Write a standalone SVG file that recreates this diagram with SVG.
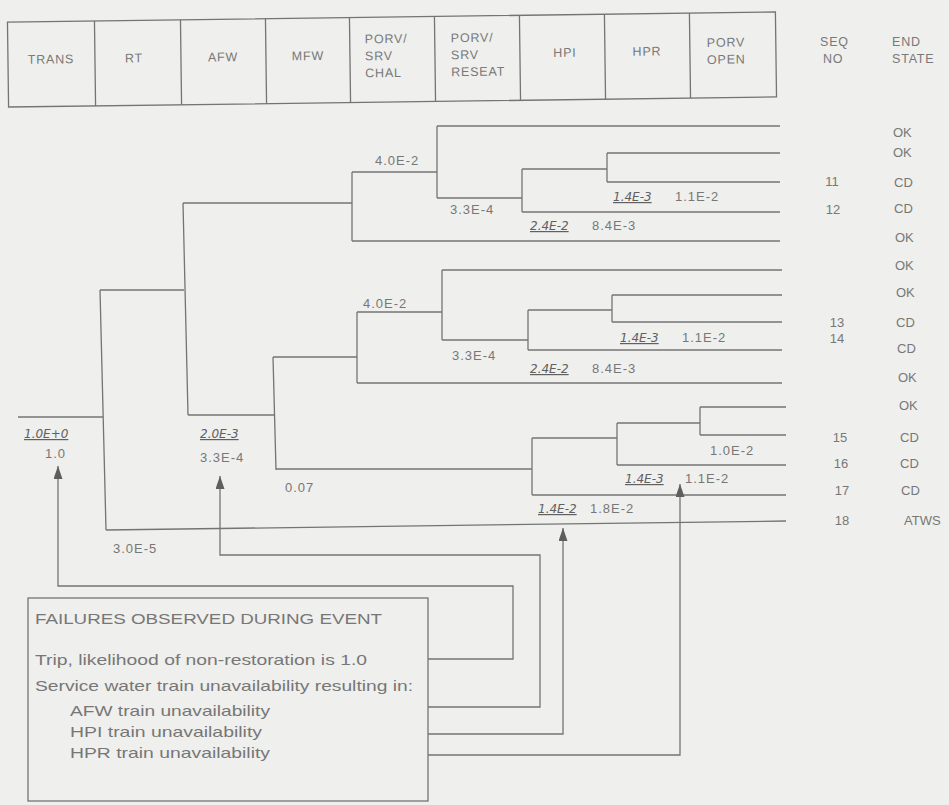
<svg xmlns="http://www.w3.org/2000/svg" width="949" height="805" viewBox="0 0 949 805">
<style>
.ln{fill:none;stroke:#747474;stroke-width:1.3}
.hd{font-family:"Liberation Sans",Arial,sans-serif;font-size:12.5px;fill:#787878;letter-spacing:0.8px}
.lb{font-family:"Liberation Sans",Arial,sans-serif;font-size:13px;fill:#777;letter-spacing:1px}
.hw{font-family:"DejaVu Sans",sans-serif;font-size:12px;font-style:italic;fill:#606060;text-decoration:underline}
.es{font-family:"Liberation Sans",Arial,sans-serif;font-size:13px;fill:#777}
.bx{font-family:"Liberation Sans",Arial,sans-serif;font-size:14.5px;fill:#777}
</style>
<defs>
<marker id="ah" markerUnits="userSpaceOnUse" markerWidth="13" markerHeight="9" viewBox="0 0 13 9" refX="13" refY="4.5" orient="auto">
<path d="M0,0 L13,4.5 L0,9 z" fill="#5e5e5e"/>
</marker>
</defs>
<rect width="949" height="805" fill="#efefed"/>

<g id="header" transform="rotate(-0.75 392 60)">
<rect class="ln" x="8" y="17" width="768" height="85"/>
<path class="ln" d="M95,17V102M181,17V102M266,17V102M350,17V102M435,17V102M520,17V102M605,17V102M690,17V102"/>
<text class="hd" x="51" y="59" text-anchor="middle">TRANS</text>
<text class="hd" x="134" y="59" text-anchor="middle">RT</text>
<text class="hd" x="223" y="59" text-anchor="middle">AFW</text>
<text class="hd" x="308" y="59" text-anchor="middle">MFW</text>
<text class="hd" x="365" y="43">PORV/</text>
<text class="hd" x="365" y="60">SRV</text>
<text class="hd" x="365" y="77">CHAL</text>
<text class="hd" x="451" y="43">PORV/</text>
<text class="hd" x="451" y="60">SRV</text>
<text class="hd" x="451" y="77">RESEAT</text>
<text class="hd" x="565" y="59" text-anchor="middle">HPI</text>
<text class="hd" x="647" y="59" text-anchor="middle">HPR</text>
<text class="hd" x="707" y="51">PORV</text>
<text class="hd" x="707" y="68">OPEN</text>
</g>
<g id="col-heads">
<text class="hd" x="820" y="46">SEQ</text>
<text class="hd" x="823" y="63">NO</text>
<text class="hd" x="892" y="46">END</text>
<text class="hd" x="892" y="63">STATE</text>
</g>

<g id="connectors">
<path class="ln" d="M18,417H103"/>
<path class="ln" d="M100,290L106,530"/>
<path class="ln" d="M106,530L786,521"/>
<path class="ln" d="M100,290H184"/>
<path class="ln" d="M183,203L188,415"/>
<path class="ln" d="M183,203H352"/>
<path class="ln" d="M352,172V241"/>
<path class="ln" d="M352,172H437"/>
<path class="ln" d="M352,241H780"/>
<path class="ln" d="M437,126V198"/>
<path class="ln" d="M437,126H780"/>
<path class="ln" d="M437,198H522"/>
<path class="ln" d="M522,169V212"/>
<path class="ln" d="M522,169H607"/>
<path class="ln" d="M522,212H780"/>
<path class="ln" d="M607,153V182"/>
<path class="ln" d="M607,153H780M607,182H780"/>
<path class="ln" d="M188,415H275"/>
<path class="ln" d="M273,357L276,470"/>
<path class="ln" d="M273,357H357"/>
<path class="ln" d="M357,312V383"/>
<path class="ln" d="M357,312H442"/>
<path class="ln" d="M357,383H782"/>
<path class="ln" d="M442,270V340"/>
<path class="ln" d="M442,270H782"/>
<path class="ln" d="M442,340H528"/>
<path class="ln" d="M528,310V350"/>
<path class="ln" d="M528,310H612"/>
<path class="ln" d="M528,350H782"/>
<path class="ln" d="M612,295V322"/>
<path class="ln" d="M612,295H782M612,322H782"/>
<path class="ln" d="M276,469H532"/>
<path class="ln" d="M532,438V495"/>
<path class="ln" d="M532,438H617"/>
<path class="ln" d="M532,495H786"/>
<path class="ln" d="M617,423V465"/>
<path class="ln" d="M617,423H700"/>
<path class="ln" d="M617,465H786"/>
<path class="ln" d="M700,407V435"/>
<path class="ln" d="M700,407H786M700,435H786"/>
</g>

<g id="probabilities">
<text class="hw" x="24" y="438">1.0E+0</text>
<text class="lb" x="45" y="458">1.0</text>
<text class="hw" x="200" y="438">2.0E-3</text>
<text class="lb" x="200" y="462">3.3E-4</text>
<text class="lb" x="285" y="492">0.07</text>
<text class="lb" x="113" y="553">3.0E-5</text>
<text class="lb" x="375" y="165">4.0E-2</text>
<text class="lb" x="450" y="214">3.3E-4</text>
<text class="hw" x="613" y="201">1.4E-3</text>
<text class="lb" x="675" y="201">1.1E-2</text>
<text class="hw" x="530" y="230">2.4E-2</text>
<text class="lb" x="592" y="230">8.4E-3</text>
<text class="lb" x="363" y="308">4.0E-2</text>
<text class="lb" x="452" y="360">3.3E-4</text>
<text class="hw" x="620" y="342">1.4E-3</text>
<text class="lb" x="682" y="342">1.1E-2</text>
<text class="hw" x="530" y="373">2.4E-2</text>
<text class="lb" x="592" y="373">8.4E-3</text>
<text class="lb" x="710" y="455">1.0E-2</text>
<text class="hw" x="625" y="483">1.4E-3</text>
<text class="lb" x="685" y="483">1.1E-2</text>
<text class="hw" x="538" y="513">1.4E-2</text>
<text class="lb" x="590" y="513">1.8E-2</text>
</g>

<g id="sequences">
<text class="es" x="893" y="137">OK</text>
<text class="es" x="893" y="157">OK</text>
<text class="es" x="832" y="186" text-anchor="middle">11</text>
<text class="es" x="894" y="187">CD</text>
<text class="es" x="833" y="214" text-anchor="middle">12</text>
<text class="es" x="894" y="213">CD</text>
<text class="es" x="895" y="242">OK</text>
<text class="es" x="895" y="270">OK</text>
<text class="es" x="896" y="297">OK</text>
<text class="es" x="837" y="327" text-anchor="middle">13</text>
<text class="es" x="896" y="327">CD</text>
<text class="es" x="837" y="343" text-anchor="middle">14</text>
<text class="es" x="897" y="353">CD</text>
<text class="es" x="898" y="382">OK</text>
<text class="es" x="899" y="410">OK</text>
<text class="es" x="840" y="442" text-anchor="middle">15</text>
<text class="es" x="900" y="442">CD</text>
<text class="es" x="841" y="468" text-anchor="middle">16</text>
<text class="es" x="900" y="468">CD</text>
<text class="es" x="842" y="495" text-anchor="middle">17</text>
<text class="es" x="901" y="495">CD</text>
<text class="es" x="842" y="525" text-anchor="middle">18</text>
<text class="es" x="904" y="525">ATWS</text>
</g>

<g id="failures-box">
<rect class="ln" x="28" y="598" width="400" height="203"/>
<text class="bx" x="35" y="624" textLength="347" lengthAdjust="spacingAndGlyphs">FAILURES OBSERVED DURING EVENT</text>
<text class="bx" x="35" y="665" textLength="332" lengthAdjust="spacingAndGlyphs">Trip, likelihood of non-restoration is 1.0</text>
<text class="bx" x="35" y="691" textLength="378" lengthAdjust="spacingAndGlyphs">Service water train unavailability resulting in:</text>
<text class="bx" x="70" y="716" textLength="200" lengthAdjust="spacingAndGlyphs">AFW train unavailability</text>
<text class="bx" x="70" y="737" textLength="192" lengthAdjust="spacingAndGlyphs">HPI train unavailability</text>
<text class="bx" x="70" y="758" textLength="200" lengthAdjust="spacingAndGlyphs">HPR train unavailability</text>
</g>

<g id="arrows">
<path class="ln" d="M428,659H513V586H58V466" marker-end="url(#ah)"/>
<path class="ln" d="M428,707H540V555H220V476" marker-end="url(#ah)"/>
<path class="ln" d="M428,734H563V528" marker-end="url(#ah)"/>
<path class="ln" d="M428,755H680V484" marker-end="url(#ah)"/>
</g>
</svg>
